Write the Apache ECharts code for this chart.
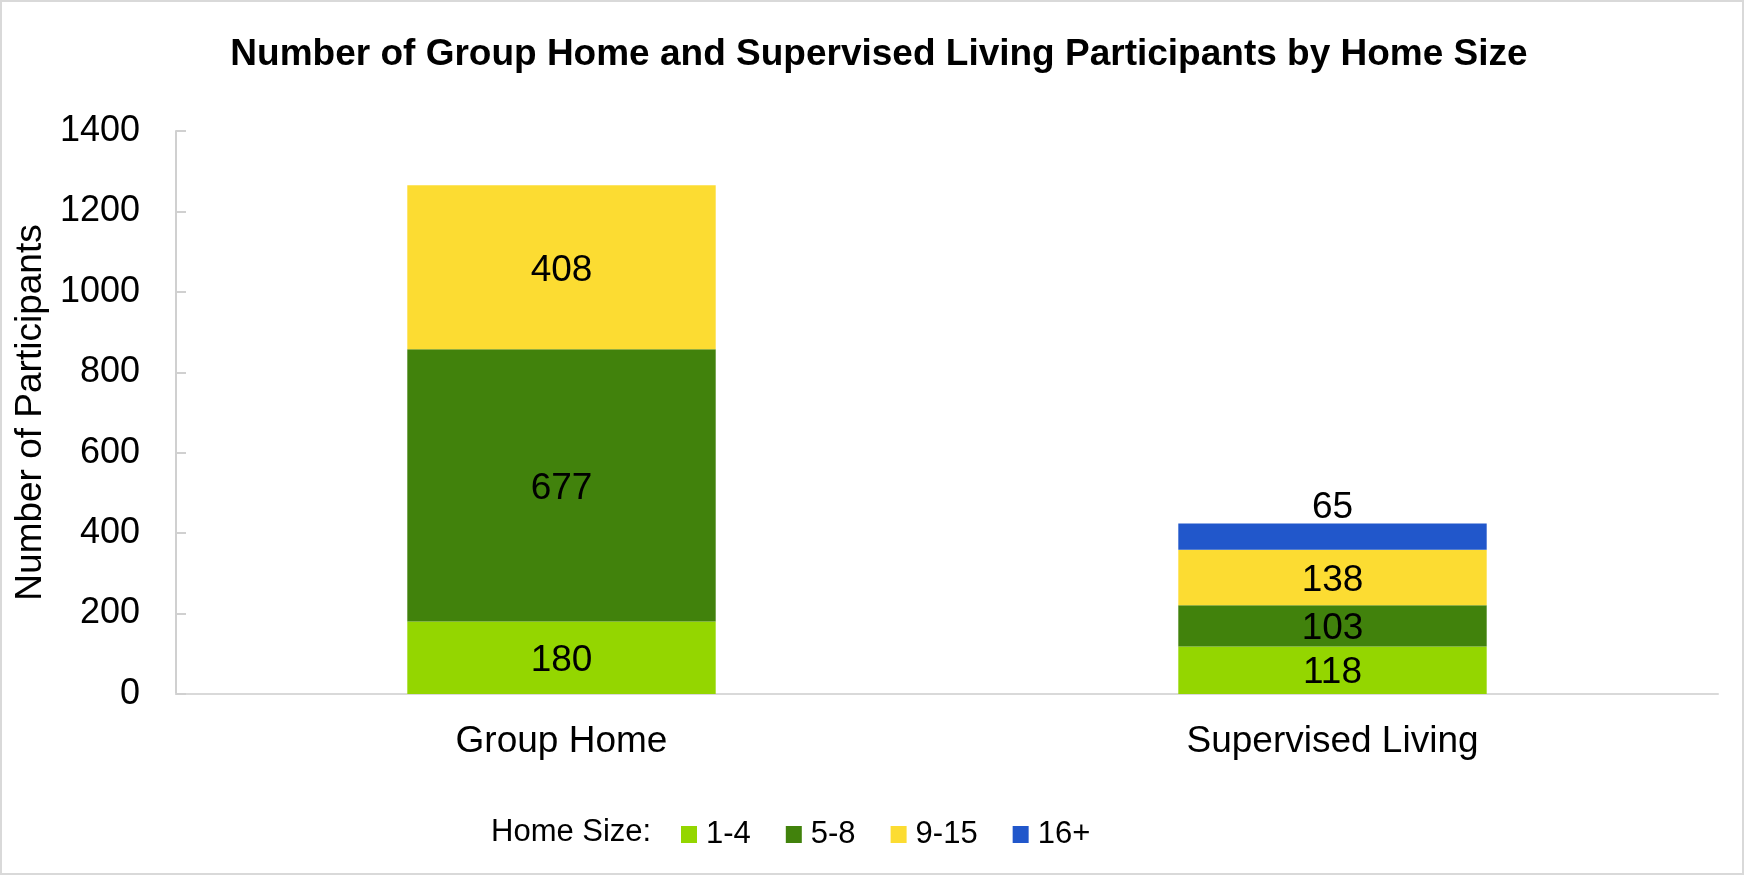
<!DOCTYPE html>
<html>
<head>
<meta charset="utf-8">
<script src="https://cdn.jsdelivr.net/npm/echarts@6/dist/echarts.min.js"></script>
<style>
  html, body { margin: 0; padding: 0; background: #ffffff; }
  #chart { width: 1744px; height: 875px; }
</style>
</head>
<body>
<div id="chart"></div>
<script>
// home types on the x axis
var categories = ['Group Home', 'Supervised Living'];
// participants by home size
var size1to4 = [180, 118];
var size5to8 = [677, 103];
var size9to15 = [408, 138];
var size16plus = [null, 65];
var sizeNames = ['1-4', '5-8', '9-15', '16+'];
var sizeColors = ['#94d600', '#41820c', '#fcdc32', '#2157cb'];

var myChart = echarts.init(document.getElementById('chart'));
var font = 'Liberation Sans, Arial, sans-serif';

function seg(i, data, pos) {
    return {
        name: sizeNames[i],
        type: 'bar',
        stack: 'total',
        barWidth: '40%',
        data: data,
        itemStyle: { color: sizeColors[i] },
        label: {
            show: true,
            position: pos,
            distance: 0,
            offset: [0, 3],
            color: '#000',
            fontFamily: font,
            fontSize: 37
        }
    };
}

var option = {
    backgroundColor: '#ffffff',
    animation: false,
    title: [
        {
            text: 'Number of Group Home and Supervised Living Participants by Home Size',
            left: 874,
            top: 31,
            textAlign: 'center',
            textStyle: { fontFamily: font, fontWeight: 'bold', fontSize: 37, color: '#000' }
        },
        {
            text: 'Home Size:',
            left: 486,
            top: 812,
            textStyle: { fontFamily: font, fontWeight: 'normal', fontSize: 31, color: '#000' }
        }
    ],
    legend: {
        data: sizeNames,
        left: 676,
        top: 814,
        itemWidth: 16,
        itemHeight: 17,
        itemGap: 35,
        icon: 'rect',
        textStyle: { fontFamily: font, fontSize: 31, color: '#000', padding: [0, 0, 0, 4] }
    },
    grid: { left: 176, right: 26, top: 131, bottom: 181 },
    xAxis: {
        type: 'category',
        data: categories,
        axisLine: { lineStyle: { color: '#d9d9d9', width: 2 } },
        axisTick: { show: false },
        axisLabel: { color: '#000', fontFamily: font, fontSize: 37, margin: 29 }
    },
    yAxis: {
        type: 'value',
        min: 0,
        max: 1400,
        interval: 200,
        name: 'Number of Participants',
        nameLocation: 'middle',
        nameGap: 122,
        nameTextStyle: { color: '#000', fontFamily: font, fontSize: 37 },
        axisLine: { show: true, lineStyle: { color: '#d0d0d0', width: 2 } },
        axisTick: { show: true, inside: true, length: 10, lineStyle: { color: '#d0d0d0', width: 2 } },
        splitLine: { show: false },
        axisLabel: {
            color: '#000', fontFamily: font, fontSize: 36, margin: 36,
            formatter: function (v) { return String(v); }
        }
    },
    graphic: [
        {
            type: 'rect',
            shape: { x: 1, y: 1, width: 1742, height: 873 },
            style: { fill: 'none', stroke: '#d9d9d9', lineWidth: 2 },
            silent: true
        }
    ],
    series: [
        seg(0, size1to4, 'inside'),
        seg(1, size5to8, 'inside'),
        seg(2, size9to15, 'inside'),
        seg(3, size16plus, 'top')
    ]
};

myChart.setOption(option);
</script>
</body>
</html>
